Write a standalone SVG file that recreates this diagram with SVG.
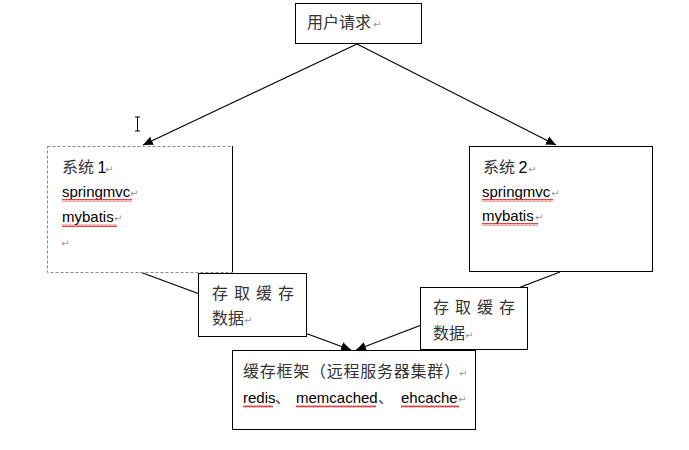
<svg xmlns="http://www.w3.org/2000/svg" width="689" height="450" viewBox="0 0 689 450">
<style>
.box{fill:#fff;stroke:#000;stroke-width:1}
.cjk{font-family:"Noto Sans CJK SC","Liberation Sans",sans-serif;font-size:16px;fill:#333}
.lat{font-family:"Liberation Sans",sans-serif;font-size:15px;fill:#000}
.pm{font-family:"DejaVu Sans",sans-serif;font-size:10px;fill:#999}
.conn{stroke:#000;stroke-width:1.1;fill:none}
.wave{stroke:#e03030;stroke-width:0.9;fill:none}
</style>
<defs>
<marker id="arr" viewBox="0 0 10 10" refX="10" refY="5" markerWidth="10" markerHeight="10" markerUnits="userSpaceOnUse" orient="auto">
<path d="M0,0.5 L10,5 L0,9.5 Z" fill="#000"/>
</marker>
<pattern id="wv" width="4" height="3" patternUnits="userSpaceOnUse">
<path d="M0,2.5 L1,0.5 L2,2.5 L3,0.5 L4,2.5" class="wave"/>
</pattern>
</defs>
<rect width="689" height="450" fill="#fff"/>
<g id="connectors">
<line class="conn" x1="357" y1="44" x2="143" y2="145" marker-end="url(#arr)"/>
<line class="conn" x1="357" y1="44" x2="556" y2="145" marker-end="url(#arr)"/>
<line class="conn" x1="140" y1="272" x2="351" y2="350" marker-end="url(#arr)"/>
<line class="conn" x1="560" y1="272" x2="356" y2="350" marker-end="url(#arr)"/>
</g>
<g id="cursor" stroke="#000" stroke-width="1" fill="none">
<path d="M137.5,117 V131 M135,117 H140 M135,131 H140"/>
</g>
<g id="user-request">
<rect class="box" x="295.5" y="3.5" width="126" height="40"/>
<text class="cjk" x="307" y="28">用户请求</text>
<text class="pm" x="373" y="28">↵</text>
</g>
<g id="system1">
<rect x="47.5" y="146.5" width="185" height="126" fill="#fff" stroke="#888" stroke-width="1" stroke-dasharray="3,2"/>
<line x1="232.5" y1="146" x2="232.5" y2="272" stroke="#000"/>
<text class="cjk" x="62" y="173">系统 <tspan class="lat" style="font-size:16px">1</tspan></text>
<text class="pm" x="105" y="173">↵</text>
<text class="lat" x="62" y="197">springmvc</text>
<text class="pm" x="130" y="197">↵</text>
<rect x="62" y="199" width="70" height="3" fill="url(#wv)"/>
<text class="lat" x="62" y="222">mybatis</text>
<text class="pm" x="114" y="222">↵</text>
<rect x="62" y="224" width="55" height="3" fill="url(#wv)"/>
<text class="pm" x="61" y="247">↵</text>
</g>
<g id="system2">
<rect class="box" x="469.5" y="146.5" width="183" height="125"/>
<text class="cjk" x="483" y="173">系统 <tspan class="lat" style="font-size:16px">2</tspan></text>
<text class="pm" x="528" y="173">↵</text>
<text class="lat" x="482" y="197">springmvc</text>
<text class="pm" x="551" y="197">↵</text>
<rect x="482" y="199" width="71" height="3" fill="url(#wv)"/>
<text class="lat" x="482" y="221">mybatis</text>
<text class="pm" x="535" y="221">↵</text>
<rect x="482" y="223" width="56" height="3" fill="url(#wv)"/>
</g>
<g id="label-left">
<rect class="box" x="198.5" y="273.5" width="108" height="63"/>
<text class="cjk" x="212 234 256 278" y="299">存取缓存</text>
<text class="cjk" x="212" y="324">数据</text>
<text class="pm" x="244" y="324">↵</text>
</g>
<g id="label-right">
<rect class="box" x="420.5" y="287.5" width="107" height="62"/>
<text class="cjk" x="433 455 477 499" y="313">存取缓存</text>
<text class="cjk" x="433" y="339">数据</text>
<text class="pm" x="465" y="339">↵</text>
</g>
<g id="cache">
<rect class="box" x="232.5" y="350.5" width="243" height="79"/>
<text class="cjk" x="243" y="377" textLength="217" lengthAdjust="spacing">缓存框架（远程服务器集群）</text>
<text class="pm" x="459" y="377">↵</text>
<text class="lat" x="243" y="403">redis</text>
<text class="cjk" x="275" y="403" style="font-size:15px">、</text>
<text class="lat" x="296" y="403">memcached</text>
<text class="cjk" x="378" y="403" style="font-size:15px">、</text>
<text class="lat" x="401" y="403">ehcache</text>
<text class="pm" x="458" y="403">↵</text>
<rect x="243" y="405" width="30" height="3" fill="url(#wv)"/>
<rect x="296" y="405" width="80" height="3" fill="url(#wv)"/>
<rect x="401" y="405" width="58" height="3" fill="url(#wv)"/>
</g>
</svg>
